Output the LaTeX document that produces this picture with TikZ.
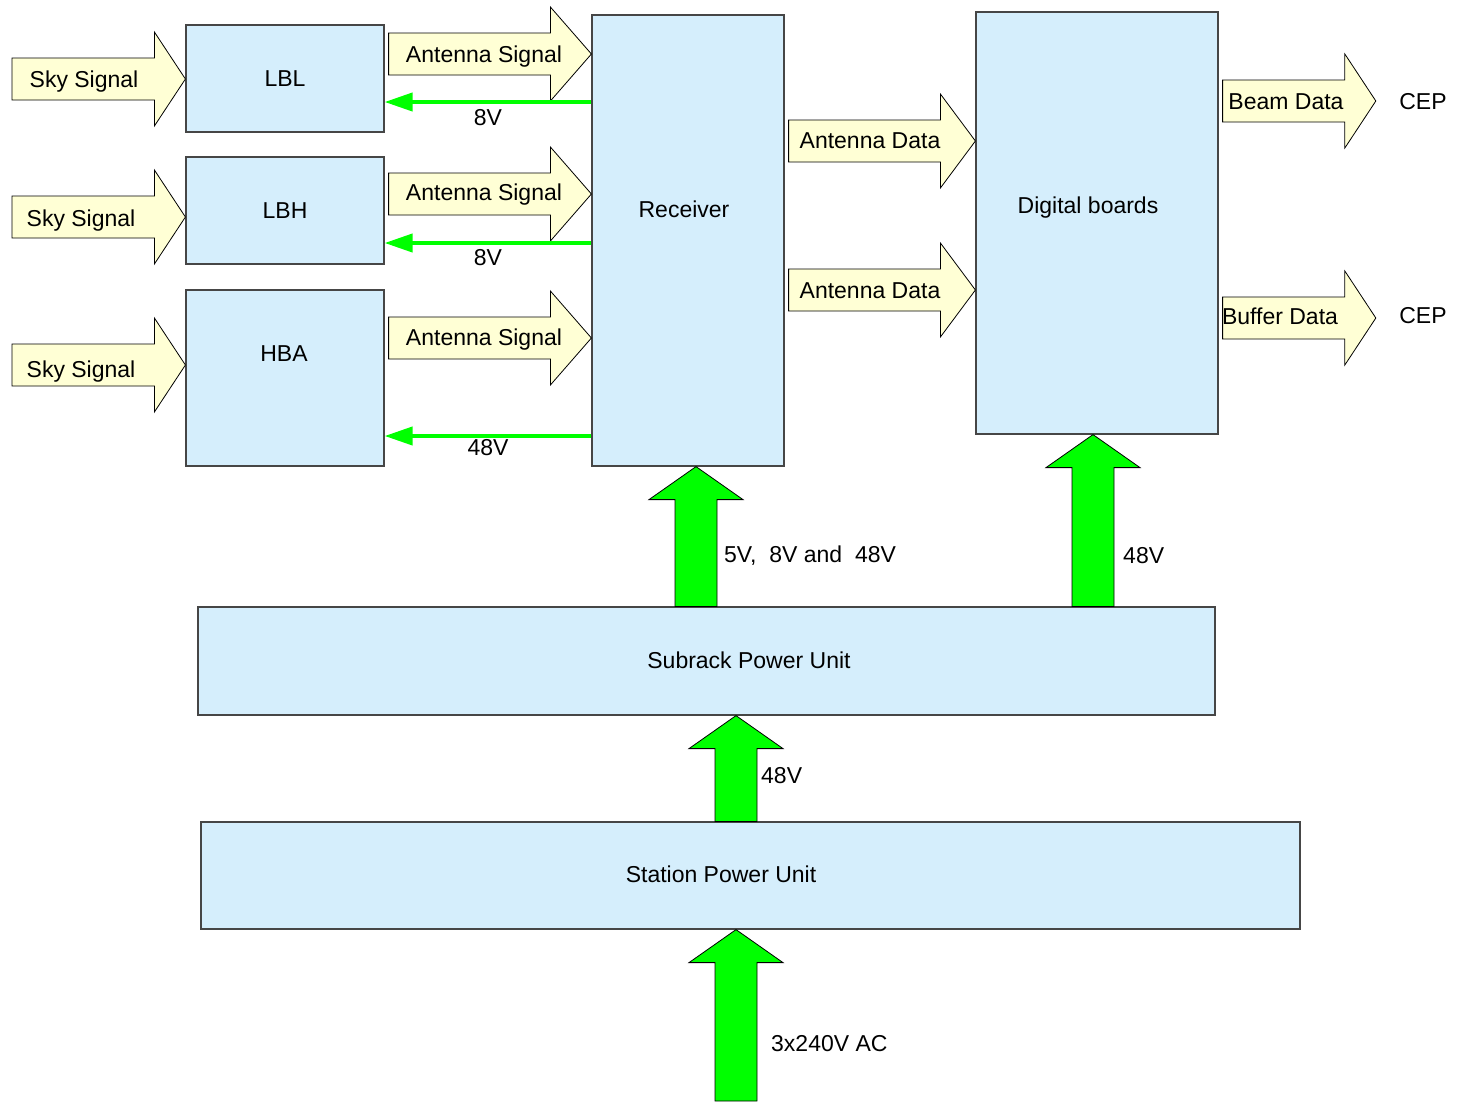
\documentclass[tikz,border=0pt]{standalone}
\usepackage{fontspec}
\setmainfont{Liberation Sans}
\usetikzlibrary{arrows.meta,calc}
\definecolor{boxblue}{RGB}{213,238,252}
\definecolor{sigyellow}{RGB}{255,255,213}
\definecolor{pwrgreen}{RGB}{0,255,0}
\definecolor{edgegray}{RGB}{70,70,70}
\tikzset{
  board/.style={draw=edgegray, fill=boxblue, line width=1.2pt},
  sig/.style={fill=sigyellow, draw=black, line width=0.8pt,
    to path={let \p1=(\tikztostart), \p2=(\tikztotarget) in
      (\x1,\y1+21pt) -- (\x2-#1,\y1+21pt) -- (\x2-#1,\y1+47pt) -- (\x2,\y1)
      -- (\x2-#1,\y1-47pt) -- (\x2-#1,\y1-21pt) -- (\x1,\y1-21pt) -- cycle}},
  sig/.default=31pt,
  pwr/.style={fill=pwrgreen, draw=black, line width=0.8pt,
    to path={let \p1=(\tikztostart), \p2=(\tikztotarget) in
      (\x1-21pt,\y1) -- (\x1-21pt,\y2-33pt) -- (\x1-47pt,\y2-33pt) -- (\x1,\y2)
      -- (\x1+47pt,\y2-33pt) -- (\x1+21pt,\y2-33pt) -- (\x1+21pt,\y1) -- cycle}},
  feed/.style={draw=pwrgreen, line width=4pt, -{Triangle[length=28pt,width=18pt]}},
  volt/.style={anchor=west, inner sep=0pt},
}
\begin{document}
\begin{tikzpicture}[x=1pt, y=-1pt, every node/.style={font=\fontsize{23}{27}\selectfont}]
  \useasboundingbox (0,0) rectangle (1458,1101);
  % boxes
  \node[board, minimum width=198pt, minimum height=107pt] (lbl) at (285,78.5) {LBL};
  \node[board, minimum width=198pt, minimum height=107pt] (lbh) at (285,210.5) {LBH};
  \node[board, minimum width=198pt, minimum height=176pt] (hba) at (285,378) {};
  \node[board, minimum width=192pt, minimum height=451pt] (rec) at (688,240.5) {};
  \node[board, minimum width=242pt, minimum height=422pt] (dig) at (1097,223) {};
  \node[board, minimum width=1017pt, minimum height=108pt] (spu) at (706.5,661) {};
  \node[board, minimum width=1099pt, minimum height=107pt] (stn) at (750.5,875.5) {};
  \node (hbat) at (284,354) {HBA};
  \node (rect) at (684,209) {Receiver};
  \node (digt) at (1088,207.5) {Digital boards};
  \node (sput) at (749,660) {Subrack Power Unit};
  \node (stnt) at (721,874) {Station Power Unit};
  \node (cep1) at (1423,102) {CEP};
  \node (cep2) at (1423,316) {CEP};
  % signal arrows
  \coordinate (sky1) at (12,79);
  \coordinate (sky2) at (12,217);
  \coordinate (sky3) at (12,365);
  \draw[sig] (sky1) to (lbl.west |- sky1);
  \draw[sig] (sky2) to (lbh.west |- sky2);
  \draw[sig] (sky3) to (hba.west |- sky3);
  \draw[sig=41pt] ($(lbl.east |- 0,54)+(4,0)$) to (rec.west |- 0,54);
  \draw[sig=41pt] ($(lbh.east |- 0,194)+(4,0)$) to (rec.west |- 0,194);
  \draw[sig=41pt] ($(hba.east |- 0,338)+(4,0)$) to (rec.west |- 0,338);
  \draw[sig=35pt] ($(rec.east |- 0,141)+(4,0)$) to (dig.west |- 0,141);
  \draw[sig=35pt] ($(rec.east |- 0,290)+(4,0)$) to (dig.west |- 0,290);
  \draw[sig] ($(dig.east |- 0,101)+(4,0)$) to ([xshift=-20pt]cep1.west |- 0,101);
  \draw[sig] ($(dig.east |- 0,318)+(4,0)$) to ([xshift=-20pt]cep2.west |- 0,318);
  \node (skyl1) at (84,81.5) {Sky Signal};
  \node (skyl2) at (81,220.5) {Sky Signal};
  \node (skyl3) at (81,371.5) {Sky Signal};
  \node (ant1) at (484,56.5) {Antenna Signal};
  \node (ant2) at (484,194.5) {Antenna Signal};
  \node (ant3) at (484,339.5) {Antenna Signal};
  \node (dat1) at (870,141) {Antenna Data};
  \node (dat2) at (870,291) {Antenna Data};
  \node (beam) at (1286,102) {Beam Data};
  \node (buf) at (1280,316) {Buffer Data};
  % supply lines to the antennas
  \draw[feed] (rec.west |- 0,102) -- (lbl.east |- 0,102) node[midway, below=2pt] {8V};
  \draw[feed] (rec.west |- 0,243) -- (lbh.east |- 0,243) node[midway, below=1pt] {8V};
  \draw[feed] (rec.west |- 0,436) -- (hba.east |- 0,436) node[midway, below=-2pt] {48V};
  % power arrows
  \coordinate (ac) at (736,1101);
  \draw[pwr] (ac) to (stn.south -| ac);
  \draw[pwr] (stn.north -| ac) to (spu.south -| ac);
  \draw[pwr] (spu.north -| 696,0) to (rec.south -| 696,0);
  \draw[pwr] (spu.north -| 1093,0) to (dig.south -| 1093,0);
  \node[volt] (recv) at (724,556) {5V,\ \ 8V and\ \ 48V};
  \node[volt] (digv) at (1123,556) {48V};
  \node[volt] (spuv) at (761,776) {48V};
  \node[volt] (acv) at (771,1044) {3x240V AC};
\end{tikzpicture}
\end{document}
